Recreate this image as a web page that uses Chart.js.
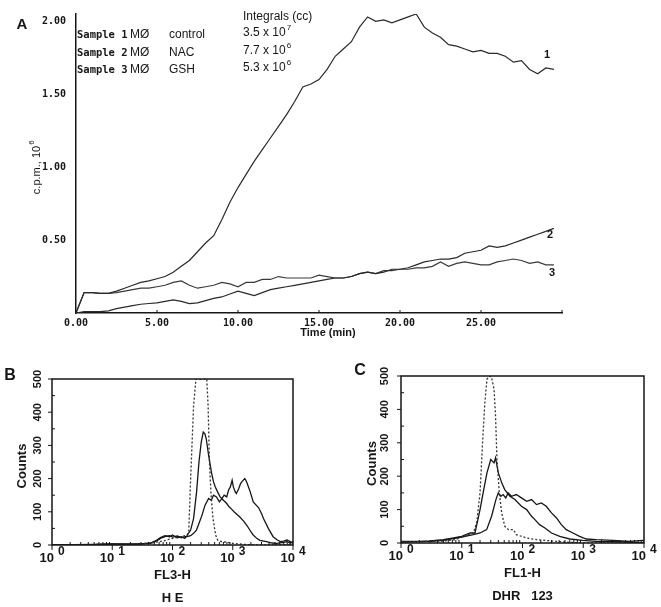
<!DOCTYPE html>
<html>
<head>
<meta charset="utf-8">
<script src="https://cdn.jsdelivr.net/npm/chart.js@4.4.0/dist/chart.umd.min.js"></script>
<style>
body { margin: 0; background: #fff; }
canvas { position: absolute; left: 0; top: 0; }
</style>
</head>
<body>
<canvas id="panelA" width="661" height="607"></canvas>
<canvas id="panelB" width="661" height="607"></canvas>
<canvas id="panelC" width="661" height="607"></canvas>
<script>
// Panel A - chemiluminescence, c.p.m. x 10^6 over time (min)
var times = [0, 0.5, 1, 1.5, 2, 2.5, 3, 3.5, 4, 4.5, 5, 5.5, 6, 6.5, 7, 7.5, 8, 8.5, 9, 9.5,
  10, 10.5, 11, 11.5, 12, 12.5, 13, 13.5, 14, 14.5, 15, 15.5, 16, 16.5, 17, 17.5, 18, 18.5, 19, 19.5,
  20, 20.5, 21, 21.5, 22, 22.5, 23, 23.5, 24, 24.5, 25, 25.5, 26, 26.5, 27, 27.5, 28, 28.5, 29, 29.5];
var control = [0, 0.14, 0.14, 0.135, 0.135, 0.15, 0.17, 0.19, 0.21, 0.22, 0.235, 0.25, 0.28, 0.32, 0.36, 0.42, 0.48, 0.53, 0.64, 0.76,
  0.86, 0.95, 1.04, 1.12, 1.2, 1.28, 1.36, 1.45, 1.55, 1.57, 1.6, 1.67, 1.76, 1.81, 1.86, 1.96, 2.03, 2.0, 2.01, 1.99,
  2.01, 2.03, 2.05, 1.96, 1.92, 1.89, 1.84, 1.83, 1.81, 1.79, 1.8, 1.78, 1.78, 1.76, 1.72, 1.73, 1.67, 1.64, 1.68, 1.67];
var nac = [0, 0.01, 0.01, 0.01, 0.015, 0.03, 0.04, 0.05, 0.06, 0.065, 0.07, 0.08, 0.09, 0.08, 0.065, 0.07, 0.085, 0.1, 0.11, 0.13,
  0.15, 0.135, 0.12, 0.14, 0.16, 0.17, 0.18, 0.19, 0.2, 0.21, 0.22, 0.23, 0.24, 0.24, 0.25, 0.27, 0.28, 0.27, 0.28, 0.3,
  0.3, 0.31, 0.33, 0.35, 0.36, 0.37, 0.37, 0.38, 0.41, 0.42, 0.43, 0.46, 0.45, 0.46, 0.48, 0.5, 0.52, 0.54, 0.56, 0.58];
var gsh = [0, 0.14, 0.14, 0.135, 0.135, 0.14, 0.15, 0.16, 0.17, 0.17, 0.18, 0.19, 0.21, 0.22, 0.19, 0.17, 0.18, 0.19, 0.21, 0.2,
  0.18, 0.21, 0.21, 0.23, 0.23, 0.25, 0.24, 0.24, 0.24, 0.24, 0.26, 0.25, 0.24, 0.24, 0.25, 0.27, 0.28, 0.27, 0.29, 0.29,
  0.3, 0.3, 0.31, 0.31, 0.32, 0.35, 0.32, 0.34, 0.35, 0.34, 0.33, 0.33, 0.35, 0.36, 0.37, 0.36, 0.34, 0.35, 0.33, 0.33];
var timeTicks = [0, 5, 10, 15, 20, 25, 30];
var cpmTicks = [0.5, 1, 1.5, 2];
var sampleNames = ['control', 'NAC', 'GSH'];
var integralBase = ['3.5 x 10', '7.7 x 10', '5.3 x 10'];
var integralExp = ['7', '6', '6'];

// Panel B - HE, FL3-H histograms
var heDotX = [1, 10, 40, 70, 100, 140, 175, 186, 200, 224, 245, 300, 370, 390, 410, 437, 470, 520, 560, 650, 800, 1000, 1500, 2500, 10000];
var heDotY = [0, 2, 5, 12, 20, 25, 30, 40, 200, 420, 500, 500, 500, 420, 250, 150, 80, 30, 15, 10, 8, 5, 2, 0, 0];
var heAX = [1, 5, 10, 20, 30, 43, 55, 63, 75, 90, 100, 120, 140, 160, 174, 200, 224, 251, 275, 300, 324, 345, 363, 398, 447, 480, 513, 560, 617, 700,
  794, 870, 955, 1050, 1175, 1300, 1514, 1700, 1820, 2000, 2188, 2500, 2818, 3631, 4500, 5370, 7000, 7943, 8900, 10000];
var heAY = [0, 2, 3, 2, 4, 5, 15, 22, 28, 25, 30, 22, 25, 20, 28, 45, 80, 160, 250, 310, 340, 335, 320, 270, 215, 190, 175, 160, 145, 135,
  125, 115, 108, 100, 92, 85, 72, 60, 52, 40, 30, 20, 14, 10, 6, 5, 8, 10, 6, 10];
var heBX = [1, 5, 10, 20, 30, 43, 55, 63, 75, 90, 100, 120, 140, 160, 174, 200, 224, 250, 269, 309, 347, 398, 440, 479, 537, 600, 661, 720, 794, 850,
  912, 977, 1023, 1100, 1148, 1259, 1350, 1413, 1585, 1650, 1738, 1950, 2188, 2450, 2692, 3000, 3236, 3890, 4677, 5500, 6166, 7000, 7943, 9000, 10000];
var heBY = [0, 1, 3, 3, 3, 6, 12, 20, 25, 28, 24, 27, 22, 25, 25, 28, 35, 45, 60, 90, 120, 140, 135, 150, 145, 130, 140, 150, 145, 165,
  175, 195, 175, 160, 155, 170, 185, 190, 200, 195, 185, 160, 130, 120, 112, 95, 80, 50, 25, 15, 10, 12, 15, 10, 5];

// Panel C - DHR 123, FL1-H histograms
var dhrDotX = [1, 3, 5, 8, 10.7, 13, 15.5, 17.6, 20, 22, 24, 26, 28.4, 31, 34, 36, 38, 41.5, 45.5, 51, 59, 71, 79, 117, 170, 363, 600, 1000, 10000];
var dhrDotY = [3, 5, 6, 10, 20, 25, 30, 60, 150, 300, 420, 490, 500, 495, 460, 380, 250, 150, 90, 50, 40, 40, 25, 15, 10, 5, 2, 0, 0];
var dhrAX = [1, 2, 3, 5, 7.3, 10, 13.7, 16.5, 20, 23, 26, 30, 34, 36, 40, 45.5, 51, 62, 75, 96, 117, 141, 160, 191, 234, 300, 410, 600, 980, 1630, 5750, 10000];
var dhrAY = [5, 5, 6, 10, 15, 20, 30, 30, 100, 160, 210, 250, 240, 255, 210, 180, 160, 140, 130, 110, 100, 80, 70, 55, 45, 30, 20, 12, 8, 5, 3, 0];
var dhrBX = [1, 3, 5, 10, 15.5, 20, 25.7, 31, 36.5, 40, 44, 48, 53, 58, 66, 79, 96, 117, 141, 170, 204, 246, 300, 363, 436, 525, 676, 871, 1122, 1630, 3090, 5750, 9550, 10000];
var dhrBY = [3, 5, 8, 18, 25, 30, 40, 80, 130, 150, 140, 145, 135, 150, 140, 145, 135, 125, 130, 115, 120, 110, 90, 75, 55, 40, 30, 20, 12, 10, 8, 5, 8, 5];

var decades = [1, 10, 100, 1000, 10000];
var countTicks = [0, 100, 200, 300, 400, 500];

var INK = '#161616';
var SANS = '"Liberation Sans", Arial, sans-serif';
var MONO = '"DejaVu Sans Mono", monospace';

function pts(xs, ys) {
  return xs.map(function (x, i) { return { x: x, y: ys[i] }; });
}

function text(ctx, s, x, y, font, align) {
  ctx.font = font;
  ctx.textAlign = align || 'left';
  ctx.textBaseline = 'middle';
  ctx.fillText(s, x, y);
}

// base text followed by raised exponent
function powText(ctx, base, exp, x, y, font, expFont, lift) {
  ctx.font = font;
  ctx.textAlign = 'left';
  ctx.textBaseline = 'middle';
  ctx.fillText(base, x, y);
  var w = ctx.measureText(base).width;
  ctx.font = expFont;
  ctx.fillText(exp, x + w + 1, y - lift);
}

var panelADecor = {
  id: 'panelADecor',
  afterDraw: function (chart) {
    var ctx = chart.ctx, a = chart.chartArea, xs = chart.scales.x;
    ctx.save();
    ctx.strokeStyle = INK;
    ctx.fillStyle = INK;
    ctx.lineWidth = 1;
    ctx.beginPath();
    timeTicks.forEach(function (v) {
      var px = xs.getPixelForValue(v);
      ctx.moveTo(px, a.bottom);
      ctx.lineTo(px, a.bottom - 3);
    });
    ctx.stroke();

    text(ctx, 'A', 22, 25, 'bold 15px ' + SANS, 'center');
    text(ctx, 'Integrals (cc)', 243, 17, '12px ' + SANS);
    var rowY = [35, 53, 70];
    for (var i = 0; i < 3; i++) {
      text(ctx, 'Sample ' + (i + 1), 77, rowY[i], 'bold 10.5px ' + MONO);
      text(ctx, 'M\u00D8', 130, rowY[i], '12px ' + SANS);
      text(ctx, sampleNames[i], 169, rowY[i], '12px ' + SANS);
      powText(ctx, integralBase[i], integralExp[i], 243, rowY[i] - 2, '12px ' + SANS, '8px ' + SANS, 5);
    }
    text(ctx, '1', 547, 55, 'bold 11px ' + SANS, 'center');
    text(ctx, '2', 550, 235, 'bold 11px ' + SANS, 'center');
    text(ctx, '3', 552, 273, 'bold 11px ' + SANS, 'center');
    text(ctx, 'Time (min)', 328, 333, 'bold 11px ' + SANS, 'center');

    ctx.translate(37, 167);
    ctx.rotate(-Math.PI / 2);
    ctx.font = '11px ' + SANS;
    var w1 = ctx.measureText('c.p.m., 10').width;
    powText(ctx, 'c.p.m., 10', '6', -(w1 + 6) / 2, 0, '11px ' + SANS, '8px ' + SANS, 5);
    ctx.restore();
  }
};

new Chart(document.getElementById('panelA'), {
  type: 'line',
  data: {
    datasets: [
      { data: pts(times, control), borderColor: '#2a2a2a', borderWidth: 1.2 },
      { data: pts(times, nac), borderColor: '#2a2a2a', borderWidth: 1.2 },
      { data: pts(times, gsh), borderColor: '#3a3a3a', borderWidth: 1.2 }
    ]
  },
  options: {
    responsive: false,
    animation: false,
    events: [],
    layout: { padding: { left: 0, right: 99, top: 14, bottom: 257 } },
    elements: { point: { radius: 0 }, line: { tension: 0 } },
    plugins: { legend: { display: false }, tooltip: { enabled: false } },
    scales: {
      x: {
        type: 'linear', min: 0, max: 30,
        afterFit: function (scale) { scale.height = 37; },
        afterBuildTicks: function (scale) { scale.ticks = timeTicks.map(function (v) { return { value: v }; }); },
        grid: { display: false },
        border: { color: INK, width: 1.5 },
        ticks: {
          color: INK, padding: -4, maxRotation: 0, autoSkip: false,
          font: { family: MONO, size: 10, weight: 'bold' },
          callback: function (v) { return v === 30 ? '' : v.toFixed(2); }
        }
      },
      y: {
        min: 0, max: 2.05,
        afterFit: function (scale) { scale.width = 76; },
        afterBuildTicks: function (scale) { scale.ticks = cpmTicks.map(function (v) { return { value: v }; }); },
        grid: { display: false },
        border: { color: INK, width: 1.5 },
        ticks: {
          color: INK, padding: 2,
          font: { family: MONO, size: 10, weight: 'bold' },
          callback: function (v) { return v.toFixed(2); }
        }
      }
    }
  },
  plugins: [panelADecor]
});

function histDecor(cfg) {
  return {
    id: 'histDecor',
    afterDraw: function (chart) {
      var ctx = chart.ctx, a = chart.chartArea, xs = chart.scales.x, ys = chart.scales.y;
      ctx.save();
      ctx.strokeStyle = INK;
      ctx.fillStyle = INK;
      ctx.lineWidth = 1.5;
      ctx.strokeRect(a.left, a.top, a.right - a.left, a.bottom - a.top);
      ctx.lineWidth = 1;
      ctx.beginPath();
      decades.forEach(function (d, k) {
        var px = xs.getPixelForValue(d);
        ctx.moveTo(px, a.bottom);
        ctx.lineTo(px, a.bottom + 5);
        if (k < decades.length - 1) {
          for (var m = 2; m < 10; m++) {
            var mx = xs.getPixelForValue(d * m);
            ctx.moveTo(mx, a.bottom);
            ctx.lineTo(mx, a.bottom - 3);
          }
        }
      });
      countTicks.forEach(function (c) {
        var py = ys.getPixelForValue(c);
        ctx.moveTo(a.left, py);
        ctx.lineTo(a.left - 4, py);
        if (c < 500) {
          var my = ys.getPixelForValue(c + 50);
          ctx.moveTo(a.left, my);
          ctx.lineTo(a.left + 3, my);
        }
      });
      ctx.stroke();

      decades.forEach(function (d, k) {
        var px = xs.getPixelForValue(d);
        text(ctx, '10', px + 2, a.bottom + 13, 'bold 13px ' + SANS, 'right');
        text(ctx, String(k), px + 6, a.bottom + 7, 'bold 12px ' + SANS, 'left');
      });
      countTicks.forEach(function (c) {
        var py = ys.getPixelForValue(c);
        ctx.save();
        ctx.translate(cfg.yLabelX, py);
        ctx.rotate(-Math.PI / 2);
        text(ctx, String(c), 0, 0, 'bold 11px ' + SANS, 'center');
        ctx.restore();
      });
      ctx.save();
      ctx.translate(cfg.countsX, (a.top + a.bottom) / 2 + 4);
      ctx.rotate(-Math.PI / 2);
      text(ctx, 'Counts', 0, 0, 'bold 13px ' + SANS, 'center');
      ctx.restore();
      var cx = (a.left + a.right) / 2;
      text(ctx, cfg.axisName, cx, a.bottom + 30, 'bold 13px ' + SANS, 'center');
      text(ctx, cfg.dye, cx, a.bottom + 53, 'bold 13px ' + SANS, 'center');
      text(ctx, cfg.letter, cfg.letterX, cfg.letterY, 'bold 16px ' + SANS, 'center');
      ctx.restore();
    }
  };
}

function histChart(id, pad, dot, solidA, solidB, cfg) {
  new Chart(document.getElementById(id), {
    type: 'line',
    data: {
      datasets: [
        { data: dot, borderColor: '#333', borderWidth: 1.3, borderDash: [2, 2] },
        { data: solidA, borderColor: INK, borderWidth: 1.3 },
        { data: solidB, borderColor: INK, borderWidth: 1.3 }
      ]
    },
    options: {
      responsive: false,
      animation: false,
      events: [],
      layout: { padding: pad },
      elements: { point: { radius: 0 }, line: { tension: 0 } },
      plugins: { legend: { display: false }, tooltip: { enabled: false } },
      scales: {
        x: { type: 'logarithmic', min: 1, max: 10000, display: false },
        y: { type: 'linear', min: 0, max: 500, display: false }
      }
    },
    plugins: [histDecor(cfg)]
  });
}

histChart('panelB', { left: 52, right: 368, top: 379, bottom: 62 },
  pts(heDotX, heDotY), pts(heAX, heAY), pts(heBX, heBY),
  { yLabelX: 38, countsX: 22, axisName: 'FL3-H', dye: 'H E', letter: 'B', letterX: 10, letterY: 376 });

histChart('panelC', { left: 401, right: 17, top: 376, bottom: 64 },
  pts(dhrDotX, dhrDotY), pts(dhrAX, dhrAY), pts(dhrBX, dhrBY),
  { yLabelX: 385, countsX: 372, axisName: 'FL1-H', dye: 'DHR   123', letter: 'C', letterX: 360, letterY: 371 });
</script>
</body>
</html>
